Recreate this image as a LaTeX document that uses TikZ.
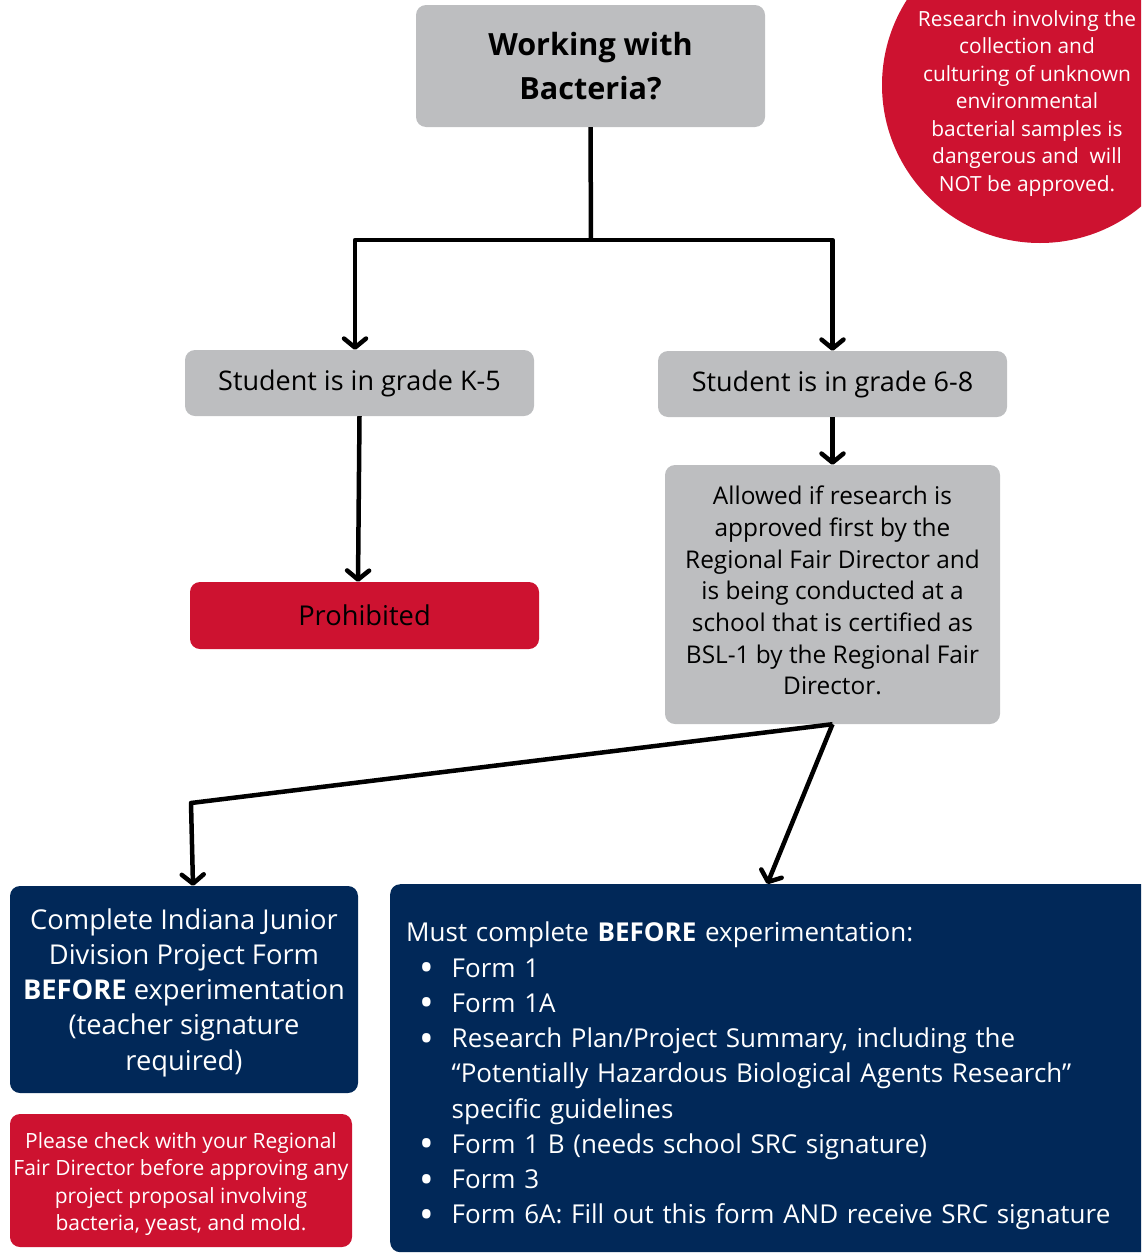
\documentclass[tikz,border=0pt]{standalone}
\usepackage{fontspec}
\usepackage{graphicx}
\setmainfont{Open Sans}
\usetikzlibrary{arrows.meta}

\definecolor{boxgray}{HTML}{BDBEC0}
\definecolor{alertred}{HTML}{CD1230}
\definecolor{formnavy}{HTML}{012858}

\newcommand{\formitem}[1]{\makebox[45.5pt][l]{\hspace{13pt}\raisebox{-0.17em}{\scalebox{1.5}{\textbullet}}}#1}
\newcommand{\formcont}[1]{\hspace*{45.5pt}#1}

\begin{document}
\begin{tikzpicture}[x=1pt,y=-1pt,
    box/.style={rounded corners=10pt, inner sep=0pt, align=center},
    greybox/.style={box, fill=boxgray, text=black},
    redbox/.style={box, fill=alertred},
    navybox/.style={box, fill=formnavy, text=white},
    plain/.style={line width=4.5pt, line join=round},
    link/.style={plain, -{Straight Barb[length=9pt,width=22pt,round]}}]

\clip (0,0) rectangle (1141,1253); % page size

% warning circle, cut by the page edge
\node [circle, fill=alertred, minimum size=316pt, inner sep=0pt] (warning) at (1040,85) {};
\node [text=white, align=center, font=\fontsize{20.9}{27.5}\selectfont] (warntext) at (1027,103.5)
    {Research involving the\\collection and\\culturing of unknown\\environmental\\bacterial samples is\\dangerous and\ \ will\\NOT be approved.};

% boxes
\node [greybox, minimum width=349pt, minimum height=122pt, font=\fontsize{30.6}{44}\selectfont\bfseries] (question) at (590.5,66) {Working with\\Bacteria?};
\node [greybox, minimum width=349pt, minimum height=66pt, font=\fontsize{27}{30}\selectfont] (gradek) at (359.5,383) {Student is in grade K-5};
\node [greybox, minimum width=349pt, minimum height=66pt, font=\fontsize{27}{30}\selectfont] (gradem) at (832.5,384) {Student is in grade 6-8};
\node [greybox, minimum width=335pt, minimum height=259pt, font=\fontsize{24.4}{31.7}\selectfont] (allowed) at (832.5,594.5)
    {Allowed if research is\\approved first by the\\Regional Fair Director and\\is being conducted at a\\school that is certified as\\BSL-1 by the Regional Fair\\Director.\rule[-8pt]{0pt}{0pt}};
\node [redbox, minimum width=349pt, minimum height=67pt, font=\fontsize{27.3}{30}\selectfont] (prohib) at (364.5,615.5) {Prohibited};
\node [navybox, minimum width=348pt, minimum height=207pt, font=\fontsize{27.3}{35.25}\selectfont] (juniorform) at (184,989.5)
    {\rule{0pt}{27pt}Complete Indiana Junior\\Division Project Form\\\textbf{BEFORE} experimentation\\(teacher signature\\required)};
\node [redbox, text=white, minimum width=342pt, minimum height=133pt, font=\fontsize{21}{27.5}\selectfont] (checknote) at (181,1180.5)
    {\rule{0pt}{23pt}Please check with your Regional\\Fair Director before approving any\\project proposal involving\\bacteria, yeast, and mold.};
\node [navybox, anchor=north west, minimum width=770pt, minimum height=368pt] (formlist) at (390,884) {};
\node [text=white, anchor=north west, align=left, inner sep=0pt, text width=720pt,
       font=\fontsize{26}{35.25}\selectfont] (formtext) at (406,922)
    {Must complete \textbf{BEFORE} experimentation:\\
     \formitem{Form 1}\\
     \formitem{Form 1A}\\
     \formitem{Research Plan/Project Summary, including the}\\
     \formcont{“Potentially Hazardous Biological Agents Research”}\\
     \formcont{specific guidelines}\\
     \formitem{Form 1 B (needs school SRC signature)}\\
     \formitem{Form 3}\\
     \formitem{Form 6A: Fill out this form AND receive SRC signature}};

% connectors
\coordinate (split) at (591,240);
\coordinate (bend) at (191,803);
\draw [plain] (question.south) -- (split);
\draw [link] (split) -| ([xshift=-4.5pt]gradek.north);
\draw [link] (split) -| (gradem.north);
\draw [link] (gradem.south) -- (allowed.north);
\draw [link] (gradek.south) -- ([xshift=-6.5pt]prohib.north);
\draw [link] (allowed.south) -- (bend) -- ([xshift=9pt]juniorform.north);
\draw [link] (allowed.south) -- ([xshift=-8pt]formlist.north);

\end{tikzpicture}
\end{document}
